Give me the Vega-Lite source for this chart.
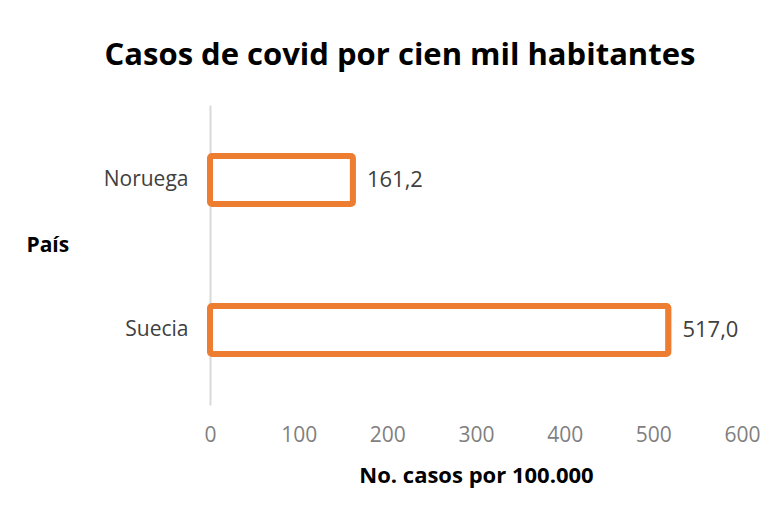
{
  "$schema": "https://vega.github.io/schema/vega-lite/v6.json",
  "width": 532,
  "height": 300,
  "autosize": {"type": "none"},
  "padding": {"left": 210, "top": 105, "right": 40, "bottom": 116},
  "background": "white",
  "config": {
    "view": {"stroke": null},
    "font": "Open Sans",
    "locale": {"number": {"decimal": ",", "thousands": ".", "grouping": [3], "currency": ["", " €"]}}
  },
  "title": {
    "text": "Casos de covid por cien mil habitantes",
    "font": "Open Sans",
    "fontSize": 31,
    "fontWeight": "bold",
    "color": "#000000",
    "anchor": "middle",
    "baseline": "alphabetic",
    "offset": 9,
    "dx": -76
  },
  "data": {
    "values": [
      {"pais": "Noruega", "casos": 161.2},
      {"pais": "Suecia", "casos": 517.0}
    ]
  },
  "encoding": {
    "y": {
      "field": "pais",
      "type": "nominal",
      "sort": ["Noruega", "Suecia"],
      "scale": {"paddingInner": 0.68, "paddingOuter": 0.34},
      "axis": {
        "title": "País",
        "titleAngle": 0,
        "titleX": -184,
        "titleY": 140,
        "titleAlign": "left",
        "titleBaseline": "middle",
        "titleFont": "Open Sans",
        "titleFontSize": 21,
        "titleFontWeight": "bold",
        "titleColor": "#000000",
        "labelFont": "Open Sans",
        "labelFontSize": 21,
        "labelColor": "#404040",
        "labelPadding": 22,
        "ticks": false,
        "domainColor": "#d9d9d9",
        "domainWidth": 2,
        "grid": false
      }
    },
    "x": {
      "field": "casos",
      "type": "quantitative",
      "scale": {"domain": [0, 600], "nice": false},
      "axis": {
        "title": "No. casos por 100.000",
        "values": [0, 100, 200, 300, 400, 500, 600],
        "format": "d",
        "labelFlush": false,
        "labelOverlap": false,
        "titleFont": "Open Sans",
        "titleFontSize": 22,
        "titleFontWeight": "bold",
        "titleColor": "#000000",
        "titlePadding": 20,
        "labelFont": "Open Sans",
        "labelFontSize": 21,
        "labelColor": "#7f7f7f",
        "labelPadding": 19,
        "ticks": false,
        "domain": false,
        "grid": false
      }
    }
  },
  "layer": [
    {
      "mark": {"type": "bar", "fill": "white", "stroke": "#ED7D31", "strokeWidth": 6, "cornerRadius": 2}
    },
    {
      "mark": {"type": "text", "align": "left", "baseline": "middle", "dx": 14, "font": "Open Sans", "fontSize": 22, "color": "#404040"},
      "encoding": {
        "text": {"field": "casos", "type": "quantitative", "format": ".1f"}
      }
    }
  ]
}
